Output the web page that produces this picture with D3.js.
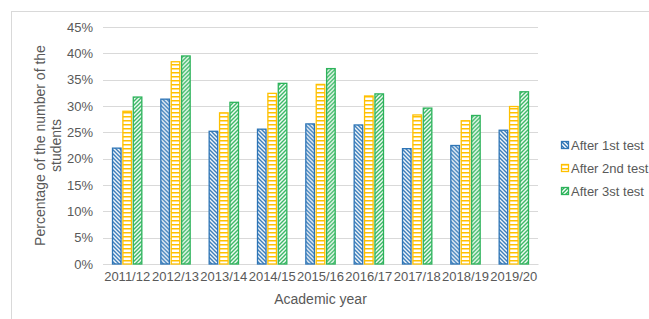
<!DOCTYPE html>
<html>
<head>
<meta charset="utf-8">
<script src="https://cdn.jsdelivr.net/npm/d3@7"></script>
<style>
  body { margin: 0; background: #fff; }
  text { font-family: "Liberation Sans", Arial, sans-serif; fill: #595959; }
</style>
</head>
<body>
<div id="chartHolder"></div>
<script>
const years = ["2011/12","2012/13","2013/14","2014/15","2015/16","2016/17","2017/18","2018/19","2019/20"];
const seriesNames = ["After 1st test","After 2nd test","After 3st test"];
const after1 = [22.0, 31.3, 25.2, 25.6, 26.6, 26.4, 21.9, 22.5, 25.4];
const after2 = [29.0, 38.4, 28.7, 32.4, 34.1, 31.9, 28.3, 27.2, 29.9];
const after3 = [31.7, 39.5, 30.7, 34.3, 37.1, 32.3, 29.6, 28.2, 32.7];
const yTicks = [0, 5, 10, 15, 20, 25, 30, 35, 40, 45];

const width = 649, height = 319;
const colors = ["#2E75B6", "#FFC000", "#2DB35B"];
const series = [after1, after2, after3];

const svg = d3.select("#chartHolder").append("svg")
  .attr("width", width).attr("height", height);

// patterns
const defs = svg.append("defs");
function addPattern(id, color, kind) {
  const p = defs.append("pattern").attr("id", id)
    .attr("patternUnits", "userSpaceOnUse").attr("width", 4).attr("height", 4);
  p.append("rect").attr("width", 4).attr("height", 4).attr("fill", "#fff");
  if (kind === "h") {
    p.append("line").attr("x1", 0).attr("x2", 4).attr("y1", 0.75).attr("y2", 0.75)
      .attr("stroke", color).attr("stroke-width", 1.5);
  } else if (kind === "back") {
    p.append("path").attr("d", "M-1,-1 L5,5 M-1,3 L1,5 M3,-1 L5,1")
      .attr("stroke", color).attr("stroke-width", 1.4);
  } else {
    p.append("path").attr("d", "M-1,5 L5,-1 M-1,1 L1,-1 M3,5 L5,3")
      .attr("stroke", color).attr("stroke-width", 1.4);
  }
}
addPattern("p0", colors[0], "back");
addPattern("p1", colors[1], "h");
addPattern("p2", colors[2], "fwd");

// frame
svg.append("rect").attr("x", 11.5).attr("y", 11.5).attr("width", 660).attr("height", 340)
  .attr("fill", "none").attr("stroke", "#d9d9d9");

const plotLeft = 103, plotRight = 538, plotTop = 27, plotBottom = 264;

const x = d3.scaleBand().domain(years).range([plotLeft, plotRight]);
const xs = d3.scaleBand().domain(d3.range(3)).range([0, 32]).padding(0.08);
const y = d3.scaleLinear().domain([0, 45]).range([plotBottom, plotTop]);

// gridlines
svg.append("g").selectAll("line").data(yTicks).join("line")
  .attr("x1", plotLeft).attr("x2", plotRight)
  .attr("y1", d => Math.round(y(d)) + 0.5).attr("y2", d => Math.round(y(d)) + 0.5)
  .attr("stroke", "#d9d9d9").attr("stroke-width", 1);

// y axis labels
const yAxis = d3.axisLeft(y).tickValues(yTicks).tickFormat(d => d + "%").tickSize(0).tickPadding(0);
svg.append("g").attr("transform", `translate(${plotLeft - 10},0)`).call(yAxis)
  .call(g => g.select(".domain").remove())
  .selectAll("text").style("font-size", "13px").attr("fill", "#595959");

// x axis
const xAxis = d3.axisBottom(x).tickSize(0).tickPadding(8);
svg.append("g").attr("transform", `translate(0,${plotBottom})`).call(xAxis)
  .call(g => g.select(".domain").attr("stroke", "#d9d9d9"))
  .selectAll("text").style("font-size", "13px").attr("fill", "#595959");

// bars
const groups = svg.append("g").selectAll("g").data(years).join("g")
  .attr("transform", d => `translate(${x(d) + (x.bandwidth() - 32) / 2},0)`);
groups.selectAll("rect").data((d, i) => series.map((s, k) => ({ k, v: s[i] }))).join("rect")
  .attr("x", d => xs(d.k) + 0.5)
  .attr("y", d => y(d.v))
  .attr("width", xs.bandwidth() - 1)
  .attr("height", d => plotBottom - y(d.v))
  .attr("fill", d => `url(#p${d.k})`)
  .attr("stroke", d => colors[d.k])
  .attr("stroke-width", 1.3);

// axis titles
svg.append("text").attr("x", (plotLeft + plotRight) / 2).attr("y", 304)
  .attr("text-anchor", "middle").style("font-size", "14px").text("Academic year");
const yt = svg.append("text").attr("transform", `translate(45,${(plotTop + plotBottom) / 2}) rotate(-90)`)
  .attr("text-anchor", "middle").style("font-size", "14px");
yt.append("tspan").attr("x", 0).attr("dy", 0).text("Percentage of the  number of the");
yt.append("tspan").attr("x", 0).attr("dy", 16).text("students");

// legend
const legend = svg.append("g").attr("transform", "translate(561,145)");
const li = legend.selectAll("g").data(seriesNames).join("g")
  .attr("transform", (d, i) => `translate(0,${i * 23})`);
li.append("rect").attr("x", 0.5).attr("y", -3.5).attr("width", 7).attr("height", 7)
  .attr("fill", (d, i) => `url(#p${i})`).attr("stroke", (d, i) => colors[i]).attr("stroke-width", 1.3);
li.append("text").attr("x", 10).attr("y", 0).attr("dy", "0.35em")
  .style("font-size", "13px").text(d => d);
</script>
</body>
</html>
